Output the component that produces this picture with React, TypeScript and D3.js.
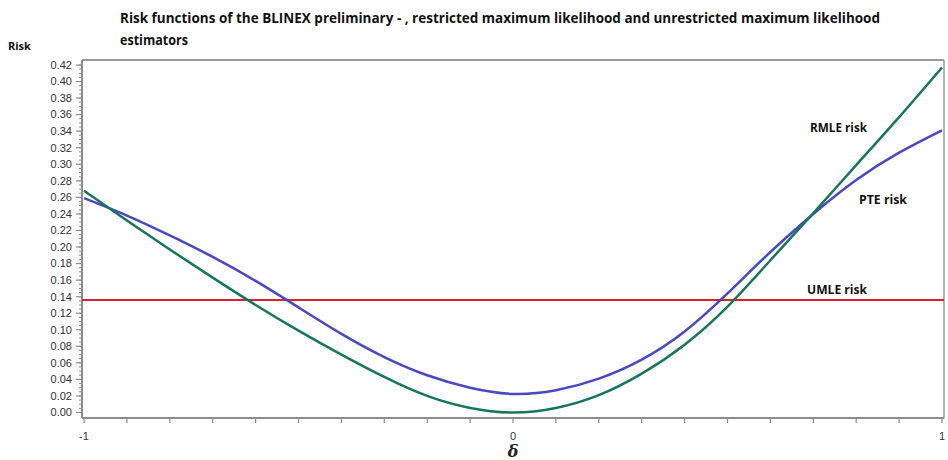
import React from "react";
import * as d3 from "d3";

// δ grid and risk values for each estimator
const deltas = [-1, -0.9, -0.8, -0.7, -0.6, -0.5, -0.4, -0.3, -0.2, -0.1, 0, 0.1, 0.2, 0.3, 0.4, 0.5, 0.6, 0.7, 0.8, 0.9, 1];
const rmleRisk = [0.268, 0.232, 0.197, 0.163, 0.13, 0.099, 0.07, 0.043, 0.02, 0.0055, 0.0, 0.0055, 0.021, 0.047, 0.082, 0.128, 0.184, 0.241, 0.299, 0.357, 0.417];
const pteRisk = [0.259, 0.238, 0.214, 0.188, 0.159, 0.127, 0.095, 0.067, 0.045, 0.03, 0.0225, 0.027, 0.041, 0.064, 0.098, 0.144, 0.194, 0.24, 0.281, 0.314, 0.341];
const umleRisk = 0.136;

const yTicks = [0, 0.02, 0.04, 0.06, 0.08, 0.1, 0.12, 0.14, 0.16, 0.18, 0.2, 0.22, 0.24, 0.26, 0.28, 0.3, 0.32, 0.34, 0.36, 0.38, 0.4, 0.42];
const xTickLabels = [-1, 0, 1];

const titleLines = [
  "Risk functions of the BLINEX preliminary - , restricted maximum likelihood and unrestricted maximum likelihood",
  "estimators",
];

const W = 948;
const H = 460;
const left = 82;
const right = 944;
const top = 60;
const bottom = 418;

export default function App() {
  const x = d3.scaleLinear().domain([-1, 1]).range([84, 942]);
  const y = d3.scaleLinear().domain([0, 0.42]).range([412.5, 65]);

  const line = d3
    .line<[number, number]>()
    .x((d) => x(d[0]))
    .y((d) => y(d[1]))
    .curve(d3.curveNatural);

  const rmlePts: [number, number][] = deltas.map((d, i) => [d, rmleRisk[i]]);
  const ptePts: [number, number][] = deltas.map((d, i) => [d, pteRisk[i]]);

  const minorY = d3.range(0, 0.4201, 0.005);
  const minorX = d3.range(-1, 1.0001, 0.1);

  const axisColor = "#8c8c8c";
  const labelFont = "Liberation Sans, Arial, sans-serif";
  const boldFont = "Open Sans, Noto Sans, sans-serif";

  return (
    <svg width={W} height={H} style={{ position: "absolute", left: 0, top: 0, background: "#fff" }}>
      {/* title */}
      <text x={120} y={23} fontFamily={boldFont} fontWeight="bold" fontSize={13.5} fill="#111"
        textLength={760} lengthAdjust="spacingAndGlyphs">{titleLines[0]}</text>
      <text x={120} y={45} fontFamily={boldFont} fontWeight="bold" fontSize={13.5} fill="#111"
        textLength={68} lengthAdjust="spacingAndGlyphs">{titleLines[1]}</text>
      <text x={8} y={50} fontFamily={boldFont} fontWeight="bold" fontSize={11} fill="#111">Risk</text>

      {/* frame */}
      <line x1={left} x2={right} y1={top} y2={top} stroke="#9a9a9a" strokeWidth={2} />
      <line x1={right} x2={right} y1={top} y2={bottom} stroke="#9a9a9a" strokeWidth={1.5} />
      <line x1={left} x2={left} y1={top} y2={bottom} stroke={axisColor} strokeWidth={2} />
      <line x1={left} x2={right} y1={bottom} y2={bottom} stroke={axisColor} strokeWidth={2} />

      {/* y axis ticks */}
      {minorY.map((v, i) => (
        <line key={"ym" + i} x1={left - 3} x2={left} y1={y(v)} y2={y(v)} stroke={axisColor} strokeWidth={1} />
      ))}
      {yTicks.map((v) => (
        <g key={"y" + v}>
          <line x1={left - 6} x2={left} y1={y(v)} y2={y(v)} stroke={axisColor} strokeWidth={1.2} />
          <text x={72} y={y(v)} dy="0.35em" textAnchor="end" fontFamily={labelFont} fontSize={11} fill="#333">
            {v.toFixed(2)}
          </text>
        </g>
      ))}

      {/* x axis ticks */}
      {minorX.map((v, i) => (
        <line key={"xm" + i} x1={x(v)} x2={x(v)} y1={bottom} y2={bottom + 5} stroke={axisColor} strokeWidth={1.2} />
      ))}
      {xTickLabels.map((v) => (
        <text key={"x" + v} x={x(v)} y={440} textAnchor="middle" fontFamily={labelFont} fontSize={11} fill="#333">
          {v}
        </text>
      ))}
      <text x={x(0)} y={457} textAnchor="middle" fontFamily="DejaVu Serif, serif" fontStyle="italic" fontWeight="bold"
        fontSize={16} fill="#222">δ</text>

      {/* risk curves */}
      <line x1={left} x2={right} y1={y(umleRisk)} y2={y(umleRisk)} stroke="#d7222e" strokeWidth={2} />
      <path d={line(ptePts) || ""} fill="none" stroke="#4848c2" strokeWidth={2.5} />
      <path d={line(rmlePts) || ""} fill="none" stroke="#16765c" strokeWidth={2.5} />

      {/* curve labels */}
      <text x={810} y={132} fontFamily={boldFont} fontWeight="bold" fontSize={12} fill="#111"
        textLength={57} lengthAdjust="spacingAndGlyphs">RMLE risk</text>
      <text x={859} y={204} fontFamily={boldFont} fontWeight="bold" fontSize={12} fill="#111"
        textLength={48} lengthAdjust="spacingAndGlyphs">PTE risk</text>
      <text x={807} y={294} fontFamily={boldFont} fontWeight="bold" fontSize={12} fill="#111"
        textLength={60} lengthAdjust="spacingAndGlyphs">UMLE risk</text>
    </svg>
  );
}
